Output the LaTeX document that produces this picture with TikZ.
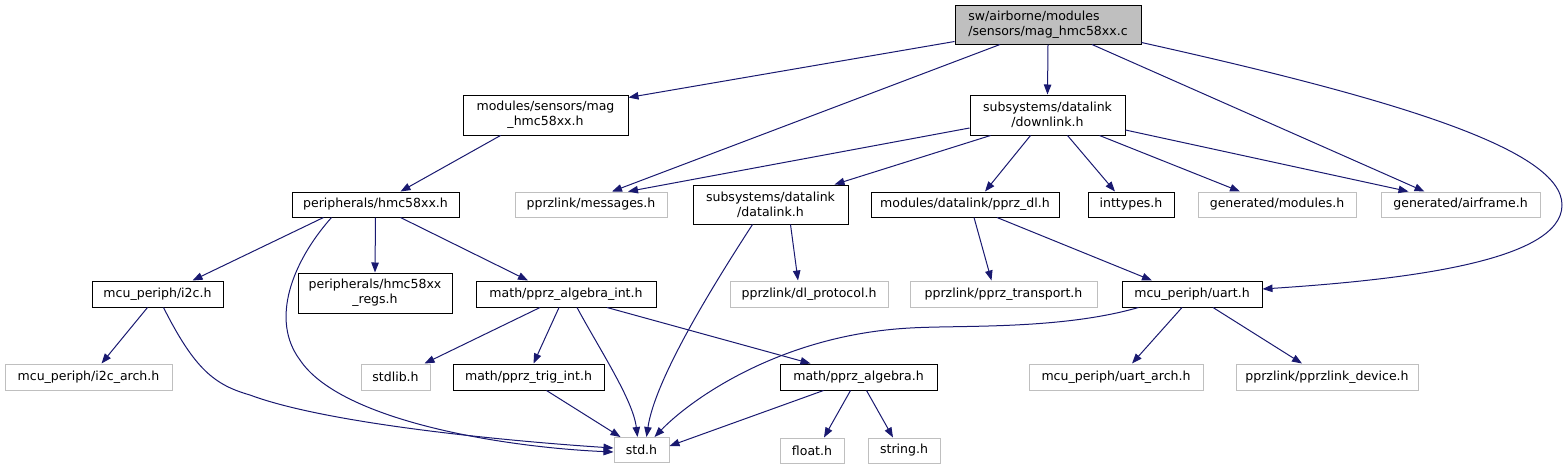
\documentclass[tikz,border=0pt]{standalone}
\usepackage{fontspec}
\setmainfont{DejaVu Sans}
\usetikzlibrary{arrows.meta}
\definecolor{edgec}{HTML}{191970}
\definecolor{grayb}{HTML}{BFBFBF}
\tikzset{
  sz/.style 2 args={minimum width=#1*0.75pt, minimum height=#2*0.75pt},
  nd/.style={draw=black, fill=white, line width=0.75pt, inner sep=0pt, align=center,
    font=\fontsize{9.4}{11.3}\selectfont},
  gn/.style={nd, draw=grayb},
  rootn/.style={nd, fill=grayb, align=left},
  e/.style={draw=edgec, line width=0.75pt, -{Triangle[length=7.5pt,width=5.6pt]}},
}
\begin{document}
\begin{tikzpicture}[x=0.75pt,y=-0.75pt]
\useasboundingbox (0,0) rectangle (1567,469);
% row 0
\node[rootn, sz={186}{39}] (root) at (1048,24.5) {sw/airborne/modules\\/sensors/mag\_hmc58xx.c};
% row 1
\node[nd, sz={165}{40}] (mag) at (545.5,115) {modules/sensors/mag\\\_hmc58xx.h};
\node[nd, sz={155}{40}] (down) at (1047.5,115) {subsystems/datalink\\/downlink.h};
% row 2
\node[nd, sz={167}{25}] (periph) at (375.5,204.5) {peripherals/hmc58xx.h};
\node[gn, sz={152}{25}] (msg) at (591,204.5) {pprzlink/messages.h};
\node[nd, sz={155}{39}] (dl) at (770.5,204.5) {subsystems/datalink\\/datalink.h};
\node[nd, sz={188}{25}] (pdl) at (965,204.5) {modules/datalink/pprz\_dl.h};
\node[nd, sz={86}{25}] (intt) at (1131,204.5) {inttypes.h};
\node[gn, sz={158}{25}] (gmod) at (1277,204.5) {generated/modules.h};
\node[gn, sz={159}{25}] (gair) at (1460.5,204.5) {generated/airframe.h};
% row 3
\node[nd, sz={131}{26}] (i2c) at (157.5,294) {mcu\_periph/i2c.h};
\node[nd, sz={154}{40}] (regs) at (375,293) {peripherals/hmc58xx\\\_regs.h};
\node[nd, sz={180}{26}] (algint) at (566,294) {math/pprz\_algebra\_int.h};
\node[gn, sz={158}{26}] (dlp) at (809,294) {pprzlink/dl\_protocol.h};
\node[gn, sz={187}{26}] (trans) at (1003.5,294) {pprzlink/pprz\_transport.h};
\node[nd, sz={140}{26}] (uart) at (1192,294) {mcu\_periph/uart.h};
% row 4
\node[gn, sz={167}{26}] (i2ca) at (88.5,377) {mcu\_periph/i2c\_arch.h};
\node[gn, sz={69}{26}] (stdlib) at (395.5,377) {stdlib.h};
\node[nd, sz={151}{26}] (trig) at (528.5,377) {math/pprz\_trig\_int.h};
\node[nd, sz={157}{26}] (alg) at (858.5,377) {math/pprz\_algebra.h};
\node[gn, sz={174}{26}] (uarta) at (1116,377) {mcu\_periph/uart\_arch.h};
\node[gn, sz={182}{26}] (dev) at (1327,377) {pprzlink/pprzlink\_device.h};
% row 5
\node[gn, sz={55}{25}] (std) at (641.5,450) {std.h};
\node[gn, sz={64}{25}] (flt) at (812,450.5) {float.h};
\node[gn, sz={72}{25}] (str) at (904,450.5) {string.h};

% edges from root
\draw[e] ([shift={(0,-3)}]root.south west) -- ([shift={(0,3)}]mag.north east);
\draw[e] ([shift={(-48,0)}]root.south) -- ([shift={(21,0)}]msg.north);
\draw[e] (root.south) -- (down.north);
\draw[e] ([shift={(44,0)}]root.south) -- ([shift={(-36,0)}]gair.north);
\draw[e] ([shift={(0,-2)}]root.south east) .. controls (1400,100) and (1562,150) .. (1562,205)
   .. controls (1562,262) and (1400,280) .. ([shift={(0,-5)}]uart.east);
% mag
\draw[e] ([shift={(-45,0)}]mag.south) -- ([shift={(25,0)}]periph.north);
% downlink
\draw[e] ([shift={(0,13)}]down.west) -- ([shift={(37,0)}]msg.north);
\draw[e] ([shift={(-57,0)}]down.south) -- ([shift={(64,0)}]dl.north);
\draw[e] ([shift={(-17,0)}]down.south) -- ([shift={(20,0)}]pdl.north);
\draw[e] ([shift={(20,0)}]down.south) -- ([shift={(-16,0)}]intt.north);
\draw[e] ([shift={(52,0)}]down.south) -- ([shift={(-37,0)}]gmod.north);
\draw[e] ([shift={(0,15)}]down.east) -- ([shift={(-52,0)}]gair.north);
% periph
\draw[e] ([shift={(-52,0)}]periph.south) -- ([shift={(35,0)}]i2c.north);
\draw[e] (periph.south) -- (regs.north);
\draw[e] ([shift={(25,0)}]periph.south) -- ([shift={(-38,0)}]algint.north);
\draw[e] ([shift={(-44,0)}]periph.south) .. controls (292,262) and (270,320) .. (300,360)
   .. controls (340,420) and (500,447) .. ([shift={(0,2)}]std.west);
% datalink
\draw[e] ([shift={(20,0)}]dl.south) -- ([shift={(-11,0)}]dlp.north);
\draw[e] ([shift={(-18,0)}]dl.south) .. controls (710,290) and (655,380) .. ([shift={(5,0)}]std.north);
% pprz_dl
\draw[e] ([shift={(9,0)}]pdl.south) -- ([shift={(-12,0)}]trans.north);
\draw[e] ([shift={(32,0)}]pdl.south) -- ([shift={(-40,0)}]uart.north);
% i2c
\draw[e] ([shift={(-10,0)}]i2c.south) -- ([shift={(13,0)}]i2ca.north);
\draw[e] ([shift={(6,0)}]i2c.south) .. controls (195,370) and (215,385) .. (250,395)
   .. controls (330,425) and (520,442) .. ([shift={(0,-2)}]std.west);
% algebra_int
\draw[e] ([shift={(-26,0)}]algint.south) -- ([shift={(29,0)}]stdlib.north);
\draw[e] ([shift={(-7,0)}]algint.south) -- ([shift={(5,0)}]trig.north);
\draw[e] ([shift={(11,0)}]algint.south) .. controls (600,350) and (633,400) .. ([shift={(-4,0)}]std.north);
\draw[e] ([shift={(41,0)}]algint.south) -- ([shift={(-48,0)}]alg.north);
% uart
\draw[e] ([shift={(17,0)}]uart.south west) .. controls (1060,330) and (960,325) .. (910,328)
   .. controls (780,335) and (690,400) .. ([shift={(13,0)}]std.north);
\draw[e] ([shift={(-10,0)}]uart.south) -- ([shift={(16,0)}]uarta.north);
\draw[e] ([shift={(21,0)}]uart.south) -- ([shift={(-25,0)}]dev.north);
% trig
\draw[e] ([shift={(18,0)}]trig.south) -- ([shift={(-21,0)}]std.north);
% algebra
\draw[e] ([shift={(-35,0)}]alg.south) -- ([shift={(0,-4)}]std.east);
\draw[e] ([shift={(-8,0)}]alg.south) -- ([shift={(12,0)}]flt.north);
\draw[e] ([shift={(8,0)}]alg.south) -- ([shift={(-11,0)}]str.north);
\end{tikzpicture}
\end{document}
